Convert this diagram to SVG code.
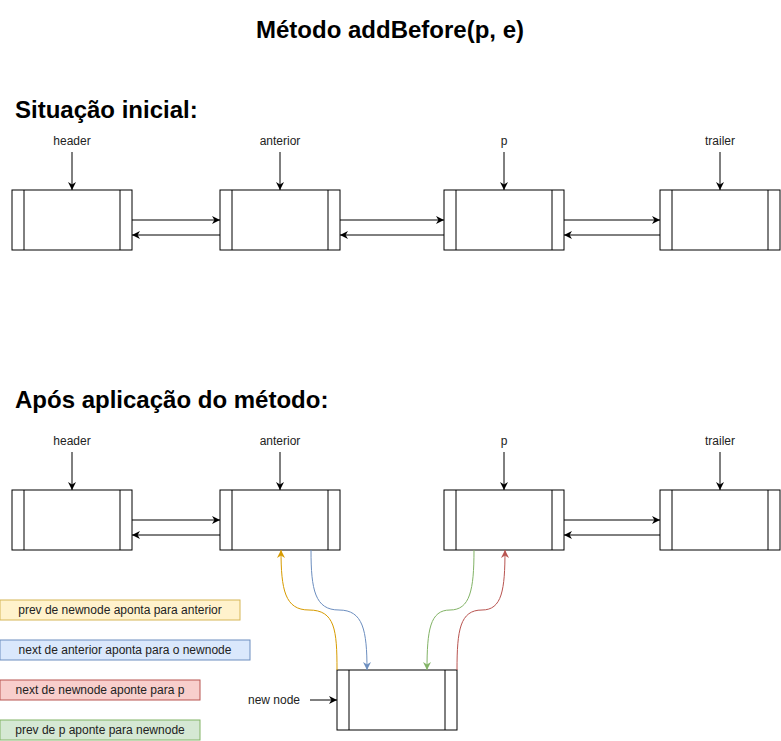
<svg xmlns="http://www.w3.org/2000/svg" width="781" height="741" viewBox="0 0 781 741">
<style>
.n{fill:#fff;stroke:#000;stroke-width:1}
.l{fill:none;stroke:#000;stroke-width:1}
.t{font-family:"Liberation Sans",Arial,sans-serif;font-size:12px;fill:#222;text-anchor:middle}
.h{font-family:"Liberation Sans",Arial,sans-serif;font-size:24px;font-weight:bold;fill:#000}
.e{fill:none;stroke:#000;stroke-width:1}
</style>
<defs>
<marker id="a" viewBox="0 0 10 10" refX="10" refY="5" markerWidth="8" markerHeight="8" markerUnits="userSpaceOnUse" orient="auto"><path d="M0,0 L10,5 L0,10 L3,5 z" fill="#000"/></marker>
<marker id="ay" viewBox="0 0 10 10" refX="10" refY="5" markerWidth="8" markerHeight="8" markerUnits="userSpaceOnUse" orient="auto"><path d="M0,0 L10,5 L0,10 L3,5 z" fill="#d79b00"/></marker>
<marker id="ab" viewBox="0 0 10 10" refX="10" refY="5" markerWidth="8" markerHeight="8" markerUnits="userSpaceOnUse" orient="auto"><path d="M0,0 L10,5 L0,10 L3,5 z" fill="#6c8ebf"/></marker>
<marker id="ag" viewBox="0 0 10 10" refX="10" refY="5" markerWidth="8" markerHeight="8" markerUnits="userSpaceOnUse" orient="auto"><path d="M0,0 L10,5 L0,10 L3,5 z" fill="#82b366"/></marker>
<marker id="ar" viewBox="0 0 10 10" refX="10" refY="5" markerWidth="8" markerHeight="8" markerUnits="userSpaceOnUse" orient="auto"><path d="M0,0 L10,5 L0,10 L3,5 z" fill="#b85450"/></marker>
</defs>
<rect width="781" height="741" fill="#fff"/>
<text class="h" x="390" y="38" text-anchor="middle">Método addBefore(p, e)</text>
<text class="h" x="15" y="118">Situação inicial:</text>
<text class="h" x="15" y="408">Após aplicação do método:</text>

<g id="top-header"><rect class="n" x="12" y="190" width="120" height="60"/><path class="l" d="M24,190V250M120,190V250"/></g>
<g id="top-anterior"><rect class="n" x="220" y="190" width="120" height="60"/><path class="l" d="M232,190V250M328,190V250"/></g>
<g id="top-p"><rect class="n" x="444" y="190" width="120" height="60"/><path class="l" d="M456,190V250M552,190V250"/></g>
<g id="top-trailer"><rect class="n" x="660" y="190" width="120" height="60"/><path class="l" d="M672,190V250M768,190V250"/></g>

<g id="bot-header"><rect class="n" x="12" y="490" width="120" height="60"/><path class="l" d="M24,490V550M120,490V550"/></g>
<g id="bot-anterior"><rect class="n" x="220" y="490" width="120" height="60"/><path class="l" d="M232,490V550M328,490V550"/></g>
<g id="bot-p"><rect class="n" x="444" y="490" width="120" height="60"/><path class="l" d="M456,490V550M552,490V550"/></g>
<g id="bot-trailer"><rect class="n" x="660" y="490" width="120" height="60"/><path class="l" d="M672,490V550M768,490V550"/></g>
<g id="newnode"><rect class="n" x="337" y="670" width="120" height="60"/><path class="l" d="M349,670V730M445,670V730"/></g>

<g id="labels">
<text class="t" x="72" y="145">header</text>
<text class="t" x="280" y="145">anterior</text>
<text class="t" x="504" y="145">p</text>
<text class="t" x="720" y="145">trailer</text>
<text class="t" x="72" y="445">header</text>
<text class="t" x="280" y="445">anterior</text>
<text class="t" x="504" y="445">p</text>
<text class="t" x="720" y="445">trailer</text>
<text class="t" x="274" y="704">new node</text>
</g>

<g id="legend">
<rect x="0" y="600" width="240" height="20" fill="#fff2cc" stroke="#d6b656"/>
<text class="t" x="120" y="614">prev de newnode aponta para anterior</text>
<rect x="0" y="640" width="250" height="20" fill="#dae8fc" stroke="#6c8ebf"/>
<text class="t" x="125" y="654">next de anterior aponta para o newnode</text>
<rect x="0" y="680" width="200" height="20" fill="#f8cecc" stroke="#b85450"/>
<text class="t" x="100" y="694">next de newnode aponte para p</text>
<rect x="0" y="720" width="200" height="20" fill="#d5e8d4" stroke="#82b366"/>
<text class="t" x="100" y="734">prev de p aponte para newnode</text>
</g>

<g id="connectors">
<path class="e" marker-end="url(#a)" d="M72,152V190"/>
<path class="e" marker-end="url(#a)" d="M280,152V190"/>
<path class="e" marker-end="url(#a)" d="M504,152V190"/>
<path class="e" marker-end="url(#a)" d="M720,152V190"/>
<path class="e" marker-end="url(#a)" d="M132,220H220"/>
<path class="e" marker-end="url(#a)" d="M220,235H132"/>
<path class="e" marker-end="url(#a)" d="M340,220H444"/>
<path class="e" marker-end="url(#a)" d="M444,235H340"/>
<path class="e" marker-end="url(#a)" d="M564,220H660"/>
<path class="e" marker-end="url(#a)" d="M660,235H564"/>

<path class="e" marker-end="url(#a)" d="M72,452V490"/>
<path class="e" marker-end="url(#a)" d="M280,452V490"/>
<path class="e" marker-end="url(#a)" d="M504,452V490"/>
<path class="e" marker-end="url(#a)" d="M720,452V490"/>
<path class="e" marker-end="url(#a)" d="M132,520H220"/>
<path class="e" marker-end="url(#a)" d="M220,535H132"/>
<path class="e" marker-end="url(#a)" d="M564,520H660"/>
<path class="e" marker-end="url(#a)" d="M660,535H564"/>
<path class="e" marker-end="url(#a)" d="M310,700H337"/>

<path class="e" style="stroke:#d79b00" marker-end="url(#ay)" d="M337,670 C337,630 335,610 309,610 C285,610 281,590 281,550"/>
<path class="e" style="stroke:#6c8ebf" marker-end="url(#ab)" d="M311,550 C311,590 315,610 339,610 C363,610 367,630 367,670"/>
<path class="e" style="stroke:#82b366" marker-end="url(#ag)" d="M474,550 C474,590 470,610 450,610 C430,610 427,630 427,670"/>
<path class="e" style="stroke:#b85450" marker-end="url(#ar)" d="M457,670 C457,630 460,610 482,610 C502,610 505,590 505,550"/>
</g>
</svg>
